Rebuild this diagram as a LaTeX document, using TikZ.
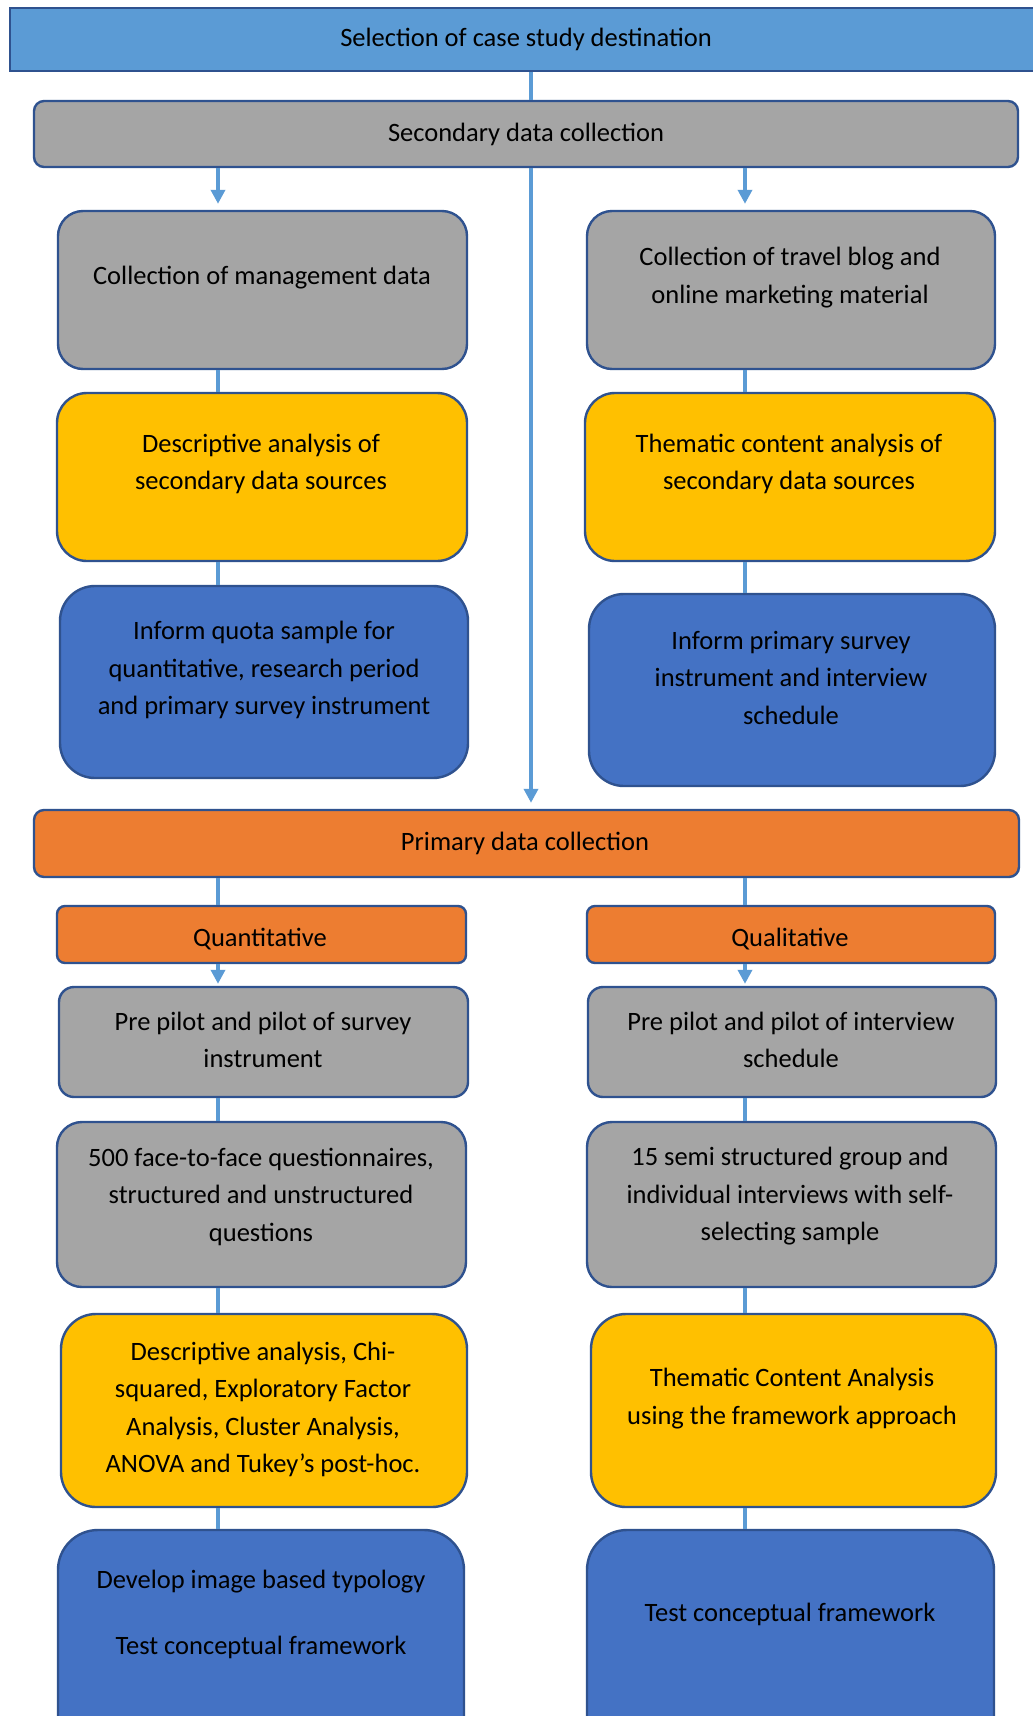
\documentclass[tikz,border=0pt]{standalone}
\usepackage{fontspec}
\setmainfont{Carlito}
\usetikzlibrary{arrows.meta}
\definecolor{cTop}{HTML}{5B9BD5}
\definecolor{cGray}{HTML}{A5A5A5}
\definecolor{cYel}{HTML}{FFC000}
\definecolor{cBlue}{HTML}{4472C4}
\definecolor{cOr}{HTML}{ED7D31}
\definecolor{cEdge}{HTML}{2F528F}
\definecolor{cLine}{HTML}{5B9BD5}
\tikzset{
  box/.style={draw=cEdge, line width=2.4pt, inner sep=0pt},
  txt/.style={font=\fontsize{26.5}{37.5}\selectfont, align=center, inner sep=0pt, text=black},
  conn/.style={draw=cLine, line width=4pt},
  arr/.style={conn, -{Triangle[width=14pt,length=14pt]}, shorten >=6pt},
}
\newcommand{\bx}[7]{% name, cx, cy, w, h, fill, radius
  \node[box, fill=#6, rounded corners=#7, minimum width=#4pt, minimum height=#5pt] (#1) at (#2,#3) {};}
\begin{document}
\begin{tikzpicture}[x=1pt,y=-1pt]
\useasboundingbox (0,0) rectangle (1033,1716);
\clip (0,0) rectangle (1033,1716);
\fill[white] (0,0) rectangle (1033,1716);
\coordinate (L) at (218,0);
\coordinate (R) at (745,0);
\coordinate (M) at (531,0);

% boxes
\bx{top}{528}{39.5}{1036}{63}{cTop}{0pt}
\bx{sec}{526}{134}{984}{66}{cGray}{10pt}
\bx{mg}{262.5}{290}{409}{158}{cGray}{25pt}
\bx{tb}{791}{290}{408}{158}{cGray}{25pt}
\bx{da}{262}{477}{410}{168}{cYel}{30pt}
\bx{tc}{790}{477}{410}{168}{cYel}{30pt}
\bx{iq}{264}{682}{408}{192}{cBlue}{35pt}
\bx{ip}{792}{690}{406}{192}{cBlue}{35pt}
\bx{pd}{526.5}{843.5}{985}{67}{cOr}{10pt}
\bx{qn}{261.5}{934.5}{409}{57}{cOr}{8pt}
\bx{ql}{791}{934.5}{408}{57}{cOr}{8pt}
\bx{pp1}{263.5}{1042}{409}{110}{cGray}{15pt}
\bx{pp2}{792}{1042}{408}{110}{cGray}{15pt}
\bx{fq}{261.5}{1204.5}{409}{165}{cGray}{25pt}
\bx{ss}{791.5}{1204.5}{409}{165}{cGray}{25pt}
\bx{dc}{264}{1410.5}{406}{193}{cYel}{35pt}
\bx{th}{793.5}{1410.5}{405}{193}{cYel}{35pt}
\bx{dv}{261}{1645}{406}{230}{cBlue}{40pt}
\bx{tf}{790.5}{1645}{407}{230}{cBlue}{40pt}

% texts
\node[txt] (t-top) at (526,39) {Selection of case study destination};
\node[txt] (t-sec) at (526,134) {Secondary data collection};
\node[txt] (t-mg) at (262,278) {Collection of management data};
\node[txt] (t-tb) at (790,277.5) {Collection of travel blog and\\online marketing material};
\node[txt] (t-da) at (261,464) {Descriptive analysis of\\secondary data sources};
\node[txt] (t-tc) at (789,464) {Thematic content analysis of\\secondary data sources};
\node[txt] (t-iq) at (264,670) {Inform quota sample for\\quantitative, research period\\and primary survey instrument};
\node[txt] (t-ip) at (791,677.5) {Inform primary survey\\instrument and interview\\schedule};
\node[txt] (t-pd) at (525,843) {Primary data collection};
\node[txt] (t-qn) at (260,939) {Quantitative};
\node[txt] (t-ql) at (790,939) {Qualitative};
\node[txt] (t-pp1) at (263,1040) {Pre pilot and pilot of survey\\instrument};
\node[txt] (t-pp2) at (791,1040) {Pre pilot and pilot of interview\\schedule};
\node[txt] (t-fq) at (261,1196.5) {500 face-to-face questionnaires,\\structured and unstructured\\questions};
\node[txt] (t-ss) at (790,1196.5) {15 semi structured group and\\individual interviews with self-\\selecting sample};
\node[txt] (t-dc) at (263,1409.5) {Descriptive analysis, Chi-\\squared, Exploratory Factor\\Analysis, Cluster Analysis,\\ANOVA and Tukey’s post-hoc.};
\node[txt] (t-th) at (792,1398.5) {Thematic Content Analysis\\using the framework approach};
\node[txt] (t-dv1) at (261,1582) {Develop image based typology};
\node[txt] (t-dv2) at (261,1647) {Test conceptual framework};
\node[txt] (t-tf) at (790,1614) {Test conceptual framework};

% connectors
\draw[conn] (top.south -| M) -- (sec.north -| M);
\draw[arr] (sec.south -| M) -- (pd.north -| M);
\draw[arr] (sec.south -| L) -- (mg.north -| L);
\draw[arr] (sec.south -| R) -- (tb.north -| R);
\draw[conn] (mg.south -| L) -- (da.north -| L);
\draw[conn] (da.south -| L) -- (iq.north -| L);
\draw[conn] (tb.south -| R) -- (tc.north -| R);
\draw[conn] (tc.south -| R) -- (ip.north -| R);
\draw[conn] (pd.south -| L) -- (qn.north -| L);
\draw[conn] (pd.south -| R) -- (ql.north -| R);
\draw[arr, shorten >=2pt] (qn.south -| L) -- (pp1.north -| L);
\draw[arr, shorten >=2pt] (ql.south -| R) -- (pp2.north -| R);
\draw[conn] (pp1.south -| L) -- (fq.north -| L);
\draw[conn] (pp2.south -| R) -- (ss.north -| R);
\draw[conn] (fq.south -| L) -- (dc.north -| L);
\draw[conn] (ss.south -| R) -- (th.north -| R);
\draw[conn] (dc.south -| L) -- (dv.north -| L);
\draw[conn] (th.south -| R) -- (tf.north -| R);
\end{tikzpicture}
\end{document}
